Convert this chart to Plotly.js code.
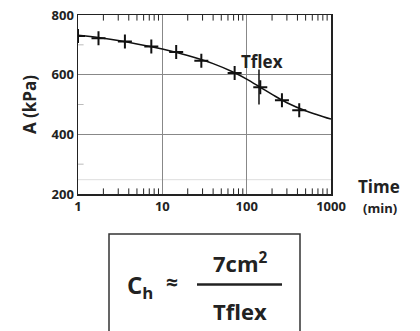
<!DOCTYPE html>
<html><head><meta charset="utf-8">
<script src="https://cdn.plot.ly/plotly-3.0.1.min.js"></script>
<style>html,body{margin:0;padding:0;background:#fff}#chart{width:420px;height:331px}</style>
</head><body><div id="chart"></div>
<script>
// measured points (time in min, A in kPa)
const pointTimes = [1, 1.75, 3.6, 7.4, 14.6, 29, 72, 145, 262, 420];
const pointA = [730, 722, 711, 694, 676, 647, 606, 558, 514, 481];
// fitted curve
const curveTimes = [1, 2, 5, 10, 20, 40, 70, 100, 150, 200, 300, 500, 700, 1000];
const curveA = [732, 722, 703, 686, 664, 637, 608, 585, 555, 534, 506, 479, 465, 451];
// Tflex marker
const tflexTime = 140;
const tflexSpan = [500, 617];
const faintLineA = 248;
const xTickVals = [1, 10, 100, 1000];
const xTickText = ['1', '10', '100', '1000'];
const yTickVals = [200, 400, 600, 800];
const yMinorVals = [300, 500, 700];
const xRange = [1, 1000];
const yRange = [200, 800];

const xMinorVals = [];
[1, 10, 100].forEach(d => { for (let k = 2; k <= 9; k++) xMinorVals.push(k * d); });

const FONT = 'Open Sans, DejaVu Sans, sans-serif';
const L = 78, R = 331, T = 15, B = 194;
const px = x => (x - L) / (R - L);
const py = y => (B - y) / (B - T);

const tickTrace = (xs, ys, sym, col) => ({x: xs, y: ys, mode: 'markers', cliponaxis: true, hoverinfo: 'skip',
  marker: {symbol: sym, size: 8, color: col, line: {color: col, width: 1}}});

const traces = [
  tickTrace(xMinorVals, xMinorVals.map(() => yRange[0]), 'line-ns', '#222'),
  tickTrace(xMinorVals, xMinorVals.map(() => yRange[1]), 'line-ns', '#222'),
  tickTrace(yMinorVals.map(() => xRange[0]), yMinorVals, 'line-ew', '#bbb'),
  {x: curveTimes, y: curveA, mode: 'lines', line: {color: '#111', width: 1.5, shape: 'spline', smoothing: 1}, hoverinfo: 'skip'},
  {x: pointTimes, y: pointA, mode: 'markers', marker: {symbol: 'cross-thin-open', size: 10, color: '#111', line: {color: '#111', width: 2}}},
  {x: [tflexTime, tflexTime], y: tflexSpan, mode: 'lines', line: {color: '#111', width: 1.5}}
];

const layout = {
  width: 420, height: 331,
  margin: {l: L, r: 420 - R, t: T, b: 331 - B},
  paper_bgcolor: '#fff', plot_bgcolor: '#fff',
  showlegend: false,
  font: {family: FONT, color: '#222'},
  xaxis: {
    type: 'log', range: [Math.log10(xRange[0]), Math.log10(xRange[1])], tickmode: 'array', tickvals: xTickVals, ticktext: xTickText,
    tickfont: {size: 13, weight: 'bold', color: '#222'},
    showgrid: true, gridcolor: '#888', gridwidth: 1,
    showline: true, linecolor: '#222', linewidth: 1.5, mirror: true,
    ticks: '', zeroline: false
  },
  yaxis: {
    range: yRange, tickmode: 'array', tickvals: yTickVals,
    tickfont: {size: 13, weight: 'bold', color: '#222'},
    showgrid: true, gridcolor: '#888', gridwidth: 1,
    showline: true, linecolor: '#222', linewidth: 1.5, mirror: true,
    ticks: '',
    title: {text: 'A (kPa)', font: {size: 17, weight: 'bold', color: '#222'}, standoff: 10},
    zeroline: false
  },
  shapes: [
    {type: 'line', xref: 'paper', yref: 'y', x0: 0, x1: 1, y0: faintLineA, y1: faintLineA, line: {color: '#ddd', width: 1}, layer: 'below'},
    {type: 'rect', xref: 'paper', yref: 'paper', x0: px(109), x1: px(300), y0: py(234), y1: py(335), line: {color: '#333', width: 1.5}},
    {type: 'line', xref: 'paper', yref: 'paper', x0: px(197), x1: px(282), y0: py(284.5), y1: py(284.5), line: {color: '#222', width: 2.5}}
  ],
  annotations: [
    {x: Math.log10(tflexTime), y: 1, xref: 'x', yref: 'paper', yshift: -46, xshift: 3, text: '<b>Tflex</b>', showarrow: false, xanchor: 'center', yanchor: 'middle', font: {size: 17, color: '#222'}},
    {x: px(379), y: py(186), xref: 'paper', yref: 'paper', text: '<b>Time</b>', showarrow: false, xanchor: 'center', yanchor: 'middle', font: {size: 17, color: '#222'}},
    {x: px(380), y: py(208), xref: 'paper', yref: 'paper', text: '<b>(min)</b>', showarrow: false, xanchor: 'center', yanchor: 'middle', font: {size: 13, color: '#222'}},
    {x: px(140), y: py(286), xref: 'paper', yref: 'paper', text: '<b>C<sub>h</sub></b>', showarrow: false, xanchor: 'center', yanchor: 'middle', font: {size: 24, color: '#222'}},
    {x: px(172), y: py(282), xref: 'paper', yref: 'paper', text: '<b>≈</b>', showarrow: false, xanchor: 'center', yanchor: 'middle', font: {size: 21, color: '#222'}},
    {x: px(240), y: py(262), xref: 'paper', yref: 'paper', text: '<b>7cm<sup>2</sup></b>', showarrow: false, xanchor: 'center', yanchor: 'middle', font: {size: 22, color: '#222'}},
    {x: px(240), y: py(311), xref: 'paper', yref: 'paper', text: '<b>Tflex</b>', showarrow: false, xanchor: 'center', yanchor: 'middle', font: {size: 22, color: '#222'}}
  ]
};

Plotly.newPlot('chart', traces, layout, {staticPlot: true, displayModeBar: false});
</script></body></html>
